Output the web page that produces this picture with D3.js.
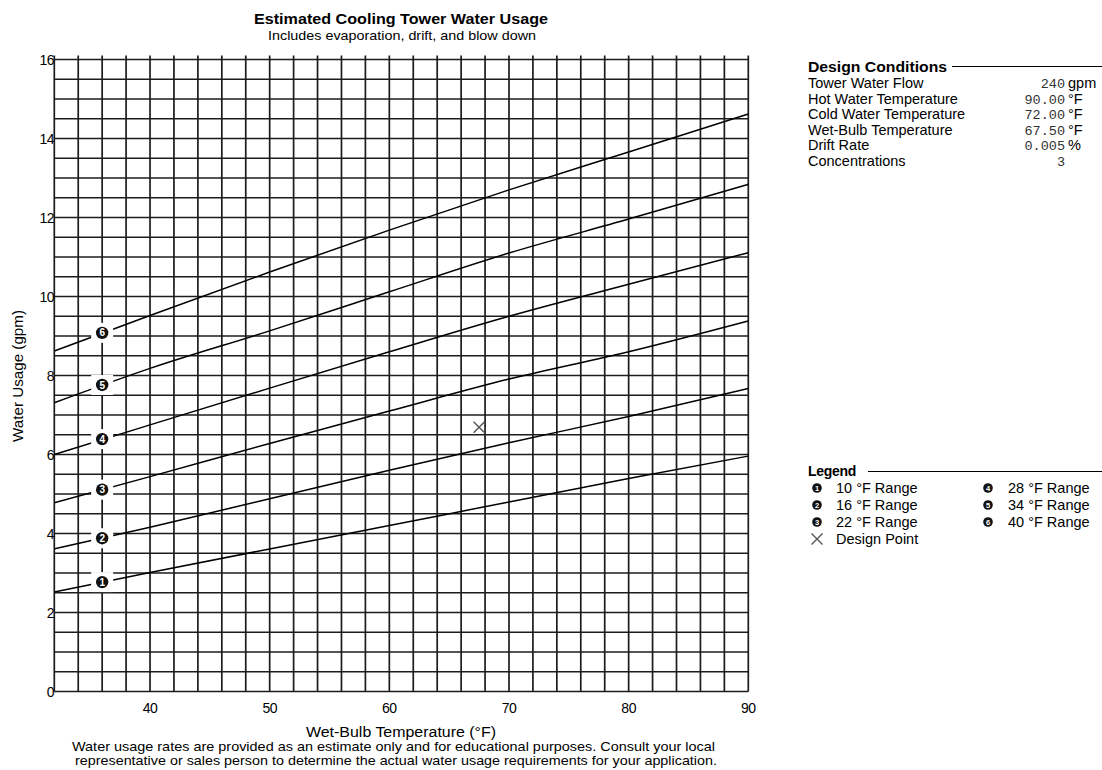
<!DOCTYPE html>
<html lang="en">
<head>
<meta charset="utf-8">
<title>Estimated Cooling Tower Water Usage</title>
<script src="https://cdn.jsdelivr.net/npm/d3@7"></script>
<style>
    body { margin: 0; background: #fff; }
    svg text { font-family: "Liberation Sans", Arial, sans-serif; fill: #000; }
    .mono { font-family: "Liberation Mono", "Courier New", monospace !important; fill: #333 !important; }
</style>
</head>
<body>
<svg id="chart" width="1102" height="770"></svg>
<script>
var wetBulb = [32, 40, 50, 60, 70, 80, 90];

// water usage (gpm) for each cooling range
var range10 = [2.52, 3.01, 3.61, 4.20, 4.80, 5.39, 5.96];
var range16 = [3.61, 4.16, 4.88, 5.60, 6.30, 6.96, 7.67];
var range22 = [4.78, 5.44, 6.28, 7.10, 7.91, 8.60, 9.38];
var range28 = [6.00, 6.75, 7.68, 8.60, 9.50, 10.31, 11.11];
var range34 = [7.31, 8.18, 9.13, 10.12, 11.10, 11.96, 12.84];
var range40 = [8.62, 9.52, 10.62, 11.68, 12.70, 13.66, 14.62];

var rangeNames = ["10 °F Range", "16 °F Range", "22 °F Range", "28 °F Range", "34 °F Range", "40 °F Range"];

// numbered markers sit on each curve at this wet-bulb
var markerTemp = 36;
var markerUsage = [2.77, 3.88, 5.11, 6.39, 7.76, 9.08];

// design point
var designPoint = { temp: 67.5, usage: 6.69 };

var xTicks = [40, 50, 60, 70, 80, 90];
var yTicks = [0, 2, 4, 6, 8, 10, 12, 14, 16];

var condLabels = ["Tower Water Flow", "Hot Water Temperature", "Cold Water Temperature", "Wet-Bulb Temperature", "Drift Rate", "Concentrations"];
var condValues = ["240", "90.00", "72.00", "67.50", "0.005", "3"];
var condUnits = ["gpm", "°F", "°F", "°F", "%", ""];

var series = [range10, range16, range22, range28, range34, range40];

var svg = d3.select("#chart");

var x = d3.scaleLinear().domain([32, 90]).range([54.3, 748.3]);
var y = d3.scaleLinear().domain([0, 16]).range([691.5, 59.5]);

// grid: every 2 °F and every 0.5 gpm
var grid = svg.append("g").attr("stroke", "#1c1c1c").attr("stroke-width", 1.7);

grid.selectAll("line.v")
    .data(d3.range(32, 90.1, 2))
    .enter().append("line")
    .attr("x1", function(d) { return x(d); })
    .attr("x2", function(d) { return x(d); })
    .attr("y1", y(16) - 4)
    .attr("y2", y(0));

grid.selectAll("line.h")
    .data(d3.range(0, 16.01, 0.5))
    .enter().append("line")
    .attr("x1", x(32))
    .attr("x2", x(90))
    .attr("y1", function(d) { return y(d); })
    .attr("y2", function(d) { return y(d); });

// usage curves
var line = d3.line()
    .x(function(d, i) { return x(wetBulb[i]); })
    .y(function(d) { return y(d); })
    .curve(d3.curveMonotoneX);

svg.append("g").selectAll("path")
    .data(series)
    .enter().append("path")
    .attr("d", line)
    .attr("fill", "none")
    .attr("stroke", "#000")
    .attr("stroke-width", 1.5);

// markers with a white box that breaks the grid
var markers = svg.append("g").selectAll("g")
    .data(markerUsage)
    .enter().append("g")
    .attr("transform", function(d) { return "translate(" + x(markerTemp) + "," + y(d) + ")"; });

markers.append("rect")
    .attr("x", -11).attr("y", -10)
    .attr("width", 22).attr("height", 20)
    .attr("fill", "#fff");

markers.append("circle").attr("r", 6.2).attr("fill", "#111");

markers.append("text")
    .attr("text-anchor", "middle")
    .attr("dy", "0.36em")
    .style("font-size", "10px")
    .style("font-weight", "bold")
    .style("fill", "#fff")
    .text(function(d, i) { return i + 1; });

// design point cross
function cross(sel, s) {
    sel.append("path")
        .attr("d", "M" + (-s) + "," + (-s) + "L" + s + "," + s + "M" + (-s) + "," + s + "L" + s + "," + (-s))
        .attr("stroke", "#555")
        .attr("stroke-width", 1.4)
        .attr("fill", "none");
}
svg.append("g")
    .attr("transform", "translate(" + x(designPoint.temp) + "," + y(designPoint.usage) + ")")
    .call(cross, 5.5);

// tick labels
svg.append("g").selectAll("text")
    .data(yTicks)
    .enter().append("text")
    .attr("x", 54)
    .attr("y", function(d) { return y(d); })
    .attr("dy", "0.36em")
    .attr("text-anchor", "end")
    .style("font-size", "14px")
    .style("letter-spacing", "-0.5px")
    .text(function(d) { return d; });

svg.append("g").selectAll("text")
    .data(xTicks)
    .enter().append("text")
    .attr("x", function(d) { return x(d); })
    .attr("y", 713)
    .attr("text-anchor", "middle")
    .style("font-size", "14px")
    .style("letter-spacing", "-0.5px")
    .text(function(d) { return d; });

// titles
svg.append("text")
    .attr("x", 401).attr("y", 24)
    .attr("text-anchor", "middle")
    .attr("textLength", 294).attr("lengthAdjust", "spacingAndGlyphs")
    .style("font-size", "15px").style("font-weight", "bold")
    .text("Estimated Cooling Tower Water Usage");

svg.append("text")
    .attr("x", 402).attr("y", 40)
    .attr("text-anchor", "middle")
    .attr("textLength", 268).attr("lengthAdjust", "spacingAndGlyphs")
    .style("font-size", "13.5px")
    .text("Includes evaporation, drift, and blow down");

svg.append("text")
    .attr("transform", "translate(23,376) rotate(-90)")
    .attr("text-anchor", "middle")
    .attr("textLength", 132).attr("lengthAdjust", "spacingAndGlyphs")
    .style("font-size", "14.5px")
    .text("Water Usage (gpm)");

svg.append("text")
    .attr("x", 401).attr("y", 737)
    .attr("text-anchor", "middle")
    .attr("textLength", 190).attr("lengthAdjust", "spacingAndGlyphs")
    .style("font-size", "14px")
    .text("Wet-Bulb Temperature (°F)");

svg.append("text")
    .attr("x", 393.5).attr("y", 751)
    .attr("text-anchor", "middle")
    .attr("textLength", 643).attr("lengthAdjust", "spacingAndGlyphs")
    .style("font-size", "13.5px")
    .text("Water usage rates are provided as an estimate only and for educational purposes. Consult your local");

svg.append("text")
    .attr("x", 396).attr("y", 765)
    .attr("text-anchor", "middle")
    .attr("textLength", 642).attr("lengthAdjust", "spacingAndGlyphs")
    .style("font-size", "13.5px")
    .text("representative or sales person to determine the actual water usage requirements for your application.");

// design conditions panel
var panel = svg.append("g");
panel.append("text")
    .attr("x", 808).attr("y", 71.5)
    .attr("textLength", 139).attr("lengthAdjust", "spacingAndGlyphs")
    .style("font-size", "14px").style("font-weight", "bold")
    .text("Design Conditions");
panel.append("line")
    .attr("x1", 952).attr("x2", 1102)
    .attr("y1", 66.5).attr("y2", 66.5)
    .attr("stroke", "#000").attr("stroke-width", 1.2);

var rows = panel.selectAll("g.row")
    .data(condLabels)
    .enter().append("g")
    .attr("transform", function(d, i) { return "translate(0," + (88 + i * 15.5) + ")"; });

rows.append("text")
    .attr("x", 808)
    .style("font-size", "14.5px")
    .style("letter-spacing", "0px")
    .text(function(d) { return d; });

rows.append("text")
    .attr("class", "mono")
    .attr("x", 1065)
    .attr("text-anchor", "end")
    .style("font-size", "13.5px")
    .text(function(d, i) { return condValues[i]; });

rows.append("text")
    .attr("x", 1068)
    .style("font-size", "14.5px")
    .text(function(d, i) { return condUnits[i]; });

// legend
var legend = svg.append("g");
legend.append("text")
    .attr("x", 808).attr("y", 475.5)
    .style("font-size", "14px").style("font-weight", "bold")
    .style("letter-spacing", "-0.3px")
    .text("Legend");
legend.append("line")
    .attr("x1", 868).attr("x2", 1102)
    .attr("y1", 471.5).attr("y2", 471.5)
    .attr("stroke", "#000").attr("stroke-width", 1.2);

var items = legend.selectAll("g.item")
    .data(rangeNames)
    .enter().append("g")
    .attr("transform", function(d, i) {
        var col = Math.floor(i / 3), row = i % 3;
        return "translate(" + (col ? 988 : 817) + "," + (488 + row * 17) + ")";
    });

items.append("circle").attr("r", 4.8).attr("fill", "#111");
items.append("text")
    .attr("text-anchor", "middle")
    .attr("dy", "0.35em")
    .style("font-size", "7.5px")
    .style("font-weight", "bold")
    .style("fill", "#fff")
    .text(function(d, i) { return i + 1; });
items.append("text")
    .attr("x", function(d, i) { return i < 3 ? 19 : 20; })
    .attr("y", 5)
    .style("font-size", "14.5px")
    .style("letter-spacing", "0px")
    .text(function(d) { return d; });

var dp = legend.append("g").attr("transform", "translate(817,539)");
dp.call(cross, 5.5);
dp.append("text")
    .attr("x", 19).attr("y", 5)
    .style("font-size", "14.5px")
    .text("Design Point");
</script>
</body>
</html>
